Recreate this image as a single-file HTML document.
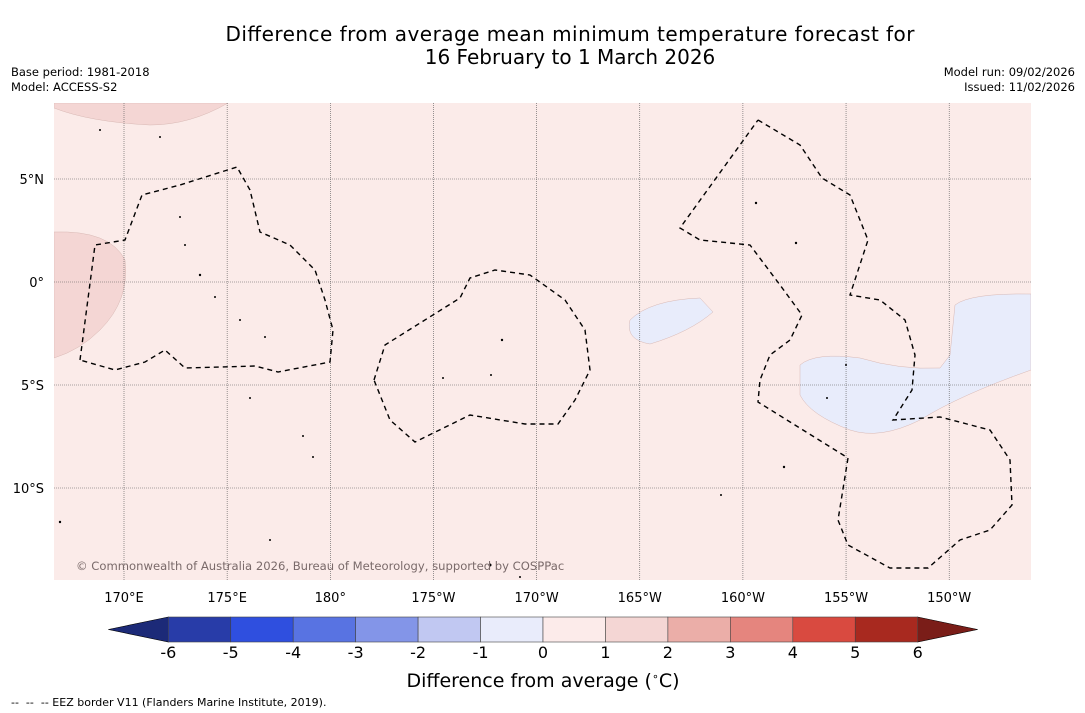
<!DOCTYPE html>
<html><head><meta charset="utf-8"><style>
body{margin:0;background:#fff;width:1085px;height:713px;overflow:hidden;font-family:"DejaVu Sans","Liberation Sans",sans-serif}
svg{position:absolute;left:0;top:0}
</style></head><body>
<svg id="c" width="1085" height="713" font-family="DejaVu Sans, Liberation Sans, sans-serif">
<text x="570" y="41" text-anchor="middle" font-size="20" textLength="689">Difference from average mean minimum temperature forecast for</text>
<text x="570" y="64" text-anchor="middle" font-size="20">16 February to 1 March 2026</text>
<text x="11" y="76" font-size="11.5">Base period: 1981-2018</text>
<text x="11" y="91" font-size="11.5">Model: ACCESS-S2</text>
<text x="1075" y="76" font-size="11.5" text-anchor="end">Model run: 09/02/2026</text>
<text x="1075" y="91" font-size="11.5" text-anchor="end">Issued: 11/02/2026</text>
<defs><clipPath id="mc"><rect x="54" y="103" width="977" height="477"/></clipPath></defs>
<g clip-path="url(#mc)">
<rect x="54" y="103" width="977" height="477" fill="#fbebe9"/>
<path d="M54,103 L228,103 Q190,125 150,125 Q90,122 54,108Z" fill="#f4d6d4" stroke="#d8b8b4" stroke-width="0.5"/>
<path d="M54,232 Q110,230 125,260 Q130,300 100,330 Q80,350 54,358Z" fill="#f4d6d4" stroke="#d8b8b4" stroke-width="0.5"/>
<path d="M630,320 Q650,300 700,298 L713,312 Q690,332 650,344 Q625,340 630,320Z" fill="#e8ecfb" stroke="#d8b8b4" stroke-width="0.5"/>
<path d="M800,365 Q815,352 860,358 Q900,370 940,368 L950,355 L955,305 Q970,293 1031,294 L1031,370 Q960,395 920,420 Q880,440 850,430 Q810,415 800,395Z" fill="#e8ecfb" stroke="#d8b8b4" stroke-width="0.5"/>
<g id="grid" stroke="#555" stroke-width="0.6" stroke-dasharray="1,1"></g>
<g fill="none" stroke="#000" stroke-width="1.4" stroke-dasharray="5,4">
<path d="M80,360 L95,245 L125,240 L142,195 L180,185 L237,167 L250,190 L260,232 L290,245 L315,270 L325,300 L333,330 L330,362 L278,372 L255,366 L185,368 L165,350 L145,362 L115,370 L80,360"/>
<path d="M374,380 L385,345 L460,298 L470,278 L495,270 L530,275 L565,300 L585,330 L590,370 L575,400 L558,424 L525,424 L470,415 L415,442 L390,420 L374,380"/>
<path d="M758,120 L800,145 L822,178 L850,195 L868,240 L850,295 L880,300 L905,320 L915,355 L912,390 L893,420 L940,417 L990,430 L1010,460 L1012,505 L990,530 L960,540 L928,568 L890,568 L848,545 L838,520 L848,458 L758,402 L760,380 L770,355 L790,340 L802,315 L780,285 L750,245 L700,240 L680,228 L758,120"/>
</g>
<g fill="#000">
<circle cx="185" cy="245" r="1"/><circle cx="200" cy="275" r="1.2"/><circle cx="215" cy="297" r="1"/><circle cx="240" cy="320" r="1"/><circle cx="265" cy="337" r="1"/><circle cx="250" cy="398" r="1"/><circle cx="303" cy="436" r="1"/><circle cx="313" cy="457" r="1"/><circle cx="502" cy="340" r="1.2"/><circle cx="491" cy="375" r="1"/><circle cx="443" cy="378" r="1"/><circle cx="756" cy="203" r="1.2"/><circle cx="796" cy="243" r="1.2"/><circle cx="784" cy="467" r="1.2"/><circle cx="721" cy="495" r="1"/><circle cx="60" cy="522" r="1.2"/><circle cx="270" cy="540" r="1"/><circle cx="490" cy="565" r="1.5"/><circle cx="520" cy="577" r="1"/><circle cx="160" cy="137" r="1"/><circle cx="100" cy="130" r="1"/><circle cx="180" cy="217" r="1"/><circle cx="846" cy="365" r="1"/><circle cx="827" cy="398" r="1"/>
</g>
<text x="76" y="570" font-size="11.6" fill="#7a6a6a">© Commonwealth of Australia 2026, Bureau of Meteorology, supported by COSPPac</text>
</g>
<g id="axlab" font-size="13" fill="#000"></g>
<g id="cbar"></g>
<text x="543" y="687" text-anchor="middle" font-size="19">Difference from average (<tspan font-size="11" dy="-7">∘</tspan><tspan dy="7">C)</tspan></text>
<text x="11" y="706" font-size="11" xml:space="preserve">--  --  -- EEZ border V11 (Flanders Marine Institute, 2019).</text>
</svg>
<script>
const lonTicks=[170,175,180,185,190,195,200,205,210];
const lonLabels=["170°E","175°E","180°","175°W","170°W","165°W","160°W","155°W","150°W"];
const latTicks=[5,0,-5,-10];
const latLabels=["5°N","0°","5°S","10°S"];
const cbLevels=[-6,-5,-4,-3,-2,-1,0,1,2,3,4,5,6];
const cbColors=["#283ca8","#2f4fdf","#5873e2","#8395e8","#c1c8f2","#e9ecfb","#fcebea","#f4d6d4","#ebaea8","#e5857e","#d94a40","#a8291f"];
const NS="http://www.w3.org/2000/svg";
const xLon=l=>124+(l-170)*20.63;
const yLat=l=>282-l*20.6;
const xCb=v=>543+v*62.45;
function mk(t,a,p){const e=document.createElementNS(NS,t);for(const k in a)e.setAttribute(k,a[k]);p.appendChild(e);return e;}
const g=document.getElementById('grid'),ax=document.getElementById('axlab'),cb=document.getElementById('cbar');
lonTicks.forEach((l,i)=>{
 const ln=mk('line',{x1:xLon(l),x2:xLon(l),y1:103,y2:580},g);
 
 
 const t=mk('text',{x:xLon(l),y:602,'text-anchor':'middle'},ax);t.textContent=lonLabels[i];
 
 
});
latTicks.forEach((l,i)=>{
 const ln=mk('line',{x1:54,x2:1031,y1:yLat(l),y2:yLat(l)},g);
 
 
 const t=mk('text',{x:44,y:yLat(l)+5,'text-anchor':'end'},ax);t.textContent=latLabels[i];
 
 
});
const y0=617,y1=642;
const lt=mk('polygon',{points:`${xCb(-6)},${y0} ${xCb(-6)-60},${(y0+y1)/2} ${xCb(-6)},${y1}`,fill:'#1c2a78',stroke:'#000','stroke-width':0.6},cb);


const rt=mk('polygon',{points:`${xCb(6)},${y0} ${xCb(6)+60},${(y0+y1)/2} ${xCb(6)},${y1}`,fill:'#7a1d18',stroke:'#000','stroke-width':0.6},cb);


cbColors.forEach((c,i)=>{
 const r=mk('rect',{x:xCb(cbLevels[i]),y:y0,width:xCb(cbLevels[i+1])-xCb(cbLevels[i]),height:y1-y0,fill:c,stroke:'#444','stroke-width':0.6},cb);
 
 
});
cbLevels.forEach(v=>{
 const t=mk('text',{x:xCb(v),y:658,'text-anchor':'middle','font-size':16},cb);t.textContent=v;
 
 
});
</script>
</body></html>
